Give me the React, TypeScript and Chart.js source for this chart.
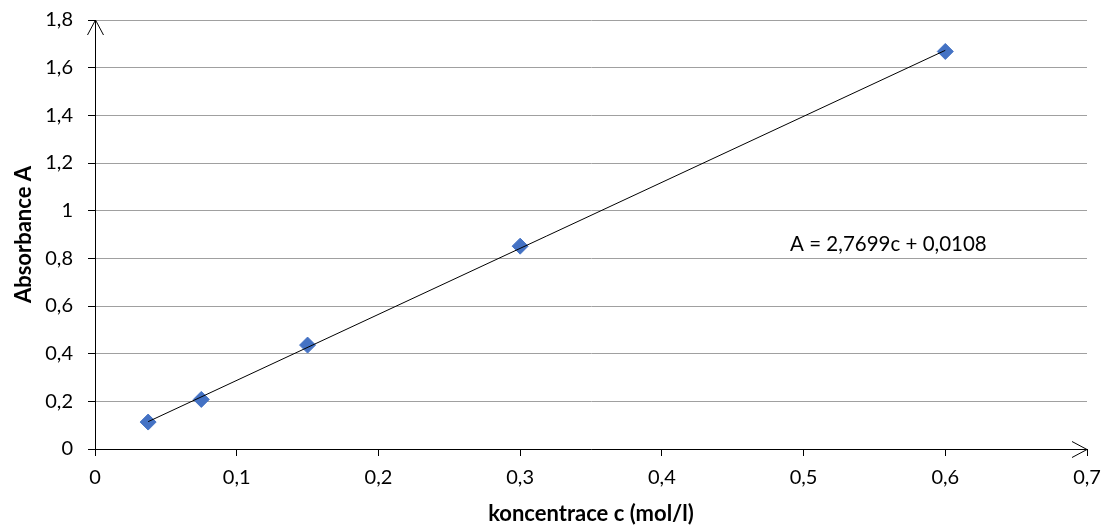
import React, { useEffect, useRef } from "react";
import { Chart, registerables } from "chart.js";

Chart.register(...registerables);

const concentrations = [0.0375, 0.075, 0.15, 0.3, 0.6];
const absorbances = [0.113, 0.208, 0.436, 0.851, 1.668];
const trendSlope = 2.7699;
const trendIntercept = 0.0108;
const equationText = "A = 2,7699c + 0,0108";
const equationPos = { x: 0.4905, y: 0.86 };
const xTitle = "koncentrace c (mol/l)";
const yTitle = "Absorbance A";

const FONT = "Lato";

const fmt = (v: number) => {
  const n = Number(Number(v).toFixed(2));
  return String(n).replace(".", ",");
};

const arrowPlugin = {
  id: "axisArrows",
  afterDraw(chart: any) {
    const { ctx, chartArea } = chart;
    const xs = chart.scales.x;
    const ys = chart.scales.y;
    ctx.save();
    // equation label
    ctx.fillStyle = "#000";
    ctx.font = `20.5px ${FONT}`;
    ctx.textAlign = "left";
    ctx.textBaseline = "middle";
    ctx.fillText(equationText, xs.getPixelForValue(equationPos.x), ys.getPixelForValue(equationPos.y));
    // arrows
    ctx.strokeStyle = "#000";
    ctx.lineWidth = 1;
    const l = chartArea.left + 0.5;
    const t = chartArea.top;
    ctx.beginPath();
    ctx.moveTo(l - 8, t + 15);
    ctx.lineTo(l, t);
    ctx.lineTo(l + 8, t + 15);
    ctx.stroke();
    const r = chartArea.right;
    const b = chartArea.bottom + 0.5;
    ctx.beginPath();
    ctx.moveTo(r - 15, b - 8);
    ctx.lineTo(r, b);
    ctx.lineTo(r - 15, b + 8);
    ctx.stroke();
    ctx.restore();
  },
};

export default function App() {
  const ref = useRef<HTMLCanvasElement>(null);
  useEffect(() => {
    if (!ref.current) return;
    const xMin = Math.min(...concentrations);
    const xMax = Math.max(...concentrations);
    const chart = new Chart(ref.current, {
      type: "scatter",
      data: {
        datasets: [
          {
            type: "line",
            data: [
              { x: xMin, y: trendSlope * xMin + trendIntercept },
              { x: xMax, y: trendSlope * xMax + trendIntercept },
            ],
            borderColor: "#000",
            borderWidth: 1,
            pointRadius: 0,
            fill: false,
            order: 0,
          } as any,
          {
            data: concentrations.map((c, i) => ({ x: c, y: absorbances[i] })),
            pointStyle: "rectRot",
            pointRadius: 8,
            backgroundColor: "#4472c4",
            borderColor: "#4472c4",
            borderWidth: 1,
            order: 1,
          },
        ],
      },
      options: {
        animation: false,
        responsive: false,
        maintainAspectRatio: false,
        layout: { padding: { top: 20, right: 22, left: 0, bottom: 0 } },
        plugins: { legend: { display: false }, tooltip: { enabled: false } },
        scales: {
          x: {
            type: "linear",
            min: 0,
            max: 0.7,
            afterFit: (s: any) => {
              s.height = 78;
              s.paddingLeft = 0;
              s.paddingRight = 0;
            },
            ticks: {
              stepSize: 0.1,
              color: "#000",
              font: { family: FONT, size: 20 },
              padding: 10,
              maxRotation: 0,
              callback: (v: any) => fmt(v),
            },
            grid: {
              drawOnChartArea: false,
              drawTicks: true,
              tickLength: 7,
              tickColor: "#000",
            },
            border: { color: "#000", width: 1 },
            title: {
              display: true,
              text: xTitle,
              color: "#000",
              font: { family: FONT, size: 22, weight: "bold" },
              padding: { top: 0, bottom: 0 },
            },
          },
          y: {
            type: "linear",
            min: 0,
            max: 1.8,
            afterFit: (s: any) => {
              s.width = 95;
              s.paddingTop = 0;
              s.paddingBottom = 0;
            },
            ticks: {
              stepSize: 0.2,
              color: "#000",
              font: { family: FONT, size: 20 },
              padding: 15,
              callback: (v: any) => fmt(v),
            },
            grid: {
              color: "#a0a0a0",
              lineWidth: 1,
              tickLength: 7,
              tickColor: "#000",
            },
            border: { color: "#000", width: 1 },
            title: {
              display: true,
              text: yTitle,
              color: "#000",
              font: { family: FONT, size: 22, weight: "bold" },
              padding: { top: 11, bottom: 0 },
            },
          },
        },
      },
      plugins: [arrowPlugin],
    });
    return () => chart.destroy();
  }, []);
  return (
    <div style={{ position: "fixed", left: 0, top: 0, width: 1109, height: 527, background: "#fff" }}>
      <canvas ref={ref} width={1109} height={527} style={{ width: 1109, height: 527, display: "block" }} />
    </div>
  );
}
